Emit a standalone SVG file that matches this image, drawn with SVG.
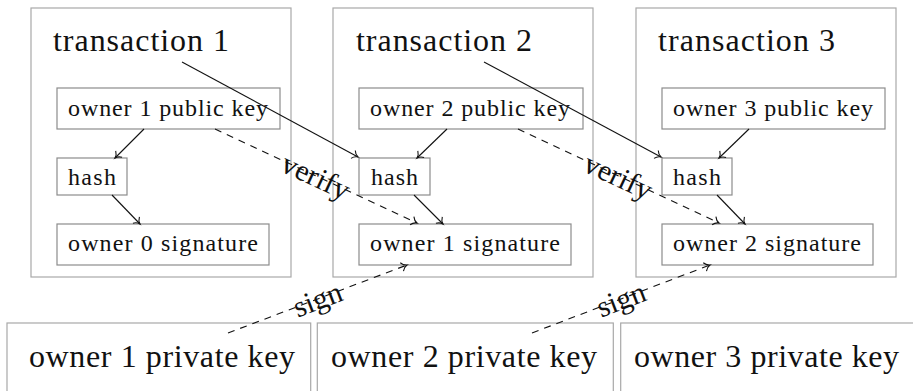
<svg xmlns="http://www.w3.org/2000/svg" width="913" height="391" viewBox="0 0 913 391">
<style>
.outer{fill:none;stroke:#a8a8a8;stroke-width:1.2}
.inner{fill:none;stroke:#8c8c8c;stroke-width:1.2}
.big{font-family:"Liberation Serif",serif;font-size:32px;fill:#111}
.mid{font-family:"Liberation Serif",serif;font-size:24px;fill:#111}
.lbl{font-family:"Liberation Serif",serif;font-size:30px;fill:#111;text-anchor:middle;dominant-baseline:central}
.c{fill:none;stroke:#111;stroke-width:1.1;marker-end:url(#to)}
.d{stroke-dasharray:7 6}
</style>
<defs>
<marker id="to" markerUnits="userSpaceOnUse" viewBox="-8 -6 10 12" refX="0" refY="0" markerWidth="10" markerHeight="12" orient="auto" overflow="visible">
<path d="M-5.5,-4.5 C-4,-1.8 -1.5,-0.4 0,0 C-1.5,0.4 -4,1.8 -5.5,4.5" fill="none" stroke="#111" stroke-width="1.1"/>
</marker>
</defs>
<g id="tx1">
<rect class="outer" x="31" y="8" width="260" height="269"/>
<text class="big" x="53" y="51" textLength="176">transaction 1</text>
<g id="pub1"><rect class="inner" x="57" y="88" width="223" height="41"/><text class="mid" x="68" y="116" textLength="200">owner 1 public key</text></g>
<g id="hash1"><rect class="inner" x="57" y="158" width="70" height="37"/><text class="mid" x="68" y="185" textLength="48">hash</text></g>
<g id="sig1"><rect class="inner" x="57" y="224" width="212" height="41"/><text class="mid" x="68" y="251" textLength="190">owner 0 signature</text></g>
</g>
<g id="tx2">
<rect class="outer" x="333" y="8" width="260" height="269"/>
<text class="big" x="356" y="51" textLength="176">transaction 2</text>
<g id="pub2"><rect class="inner" x="359" y="88" width="224" height="41"/><text class="mid" x="370" y="116" textLength="200">owner 2 public key</text></g>
<g id="hash2"><rect class="inner" x="359" y="158" width="71" height="37"/><text class="mid" x="371" y="185" textLength="47">hash</text></g>
<g id="sig2"><rect class="inner" x="359" y="224" width="212" height="41"/><text class="mid" x="370" y="251" textLength="190">owner 1 signature</text></g>
</g>
<g id="tx3">
<rect class="outer" x="636" y="8" width="260" height="269"/>
<text class="big" x="658" y="51" textLength="177">transaction 3</text>
<g id="pub3"><rect class="inner" x="662" y="88" width="223" height="41"/><text class="mid" x="673" y="116" textLength="200">owner 3 public key</text></g>
<g id="hash3"><rect class="inner" x="662" y="158" width="70" height="37"/><text class="mid" x="673" y="185" textLength="48">hash</text></g>
<g id="sig3"><rect class="inner" x="662" y="224" width="211" height="41"/><text class="mid" x="673" y="251" textLength="188">owner 2 signature</text></g>
</g>
<g id="priv1"><rect class="outer" x="7" y="323" width="303.7" height="90"/><text class="big" x="29" y="367" textLength="266">owner 1 private key</text></g>
<g id="priv2"><rect class="outer" x="317.3" y="323" width="296" height="90"/><text class="big" x="331" y="367" textLength="266">owner 2 private key</text></g>
<g id="priv3"><rect class="outer" x="620.7" y="323" width="310" height="90"/><text class="big" x="634" y="367" textLength="265">owner 3 private key</text></g>
<g id="connectors">
<path class="c" d="M182,62 L358,157"/>
<path class="c" d="M484,62 L661,157"/>
<path class="c" d="M144,129 L115,158"/>
<path class="c" d="M112,195 L140,224"/>
<path class="c" d="M447,129 L417,158"/>
<path class="c" d="M414,195 L443,224"/>
<path class="c" d="M749,129 L719,158"/>
<path class="c" d="M717,195 L745,224"/>
<path class="c d" d="M215,129 L417,223"/>
<path class="c d" d="M518,129 L719,223"/>
<path class="c d" d="M228,333 L407,265"/>
<path class="c d" d="M532,333 L710,265"/>
<text class="lbl" transform="translate(316,176) rotate(25)">verify</text>
<text class="lbl" transform="translate(618.5,176) rotate(25)">verify</text>
<text class="lbl" transform="translate(317.5,299) rotate(-20.8)">sign</text>
<text class="lbl" transform="translate(621,299) rotate(-20.8)">sign</text>
</g>
</svg>
